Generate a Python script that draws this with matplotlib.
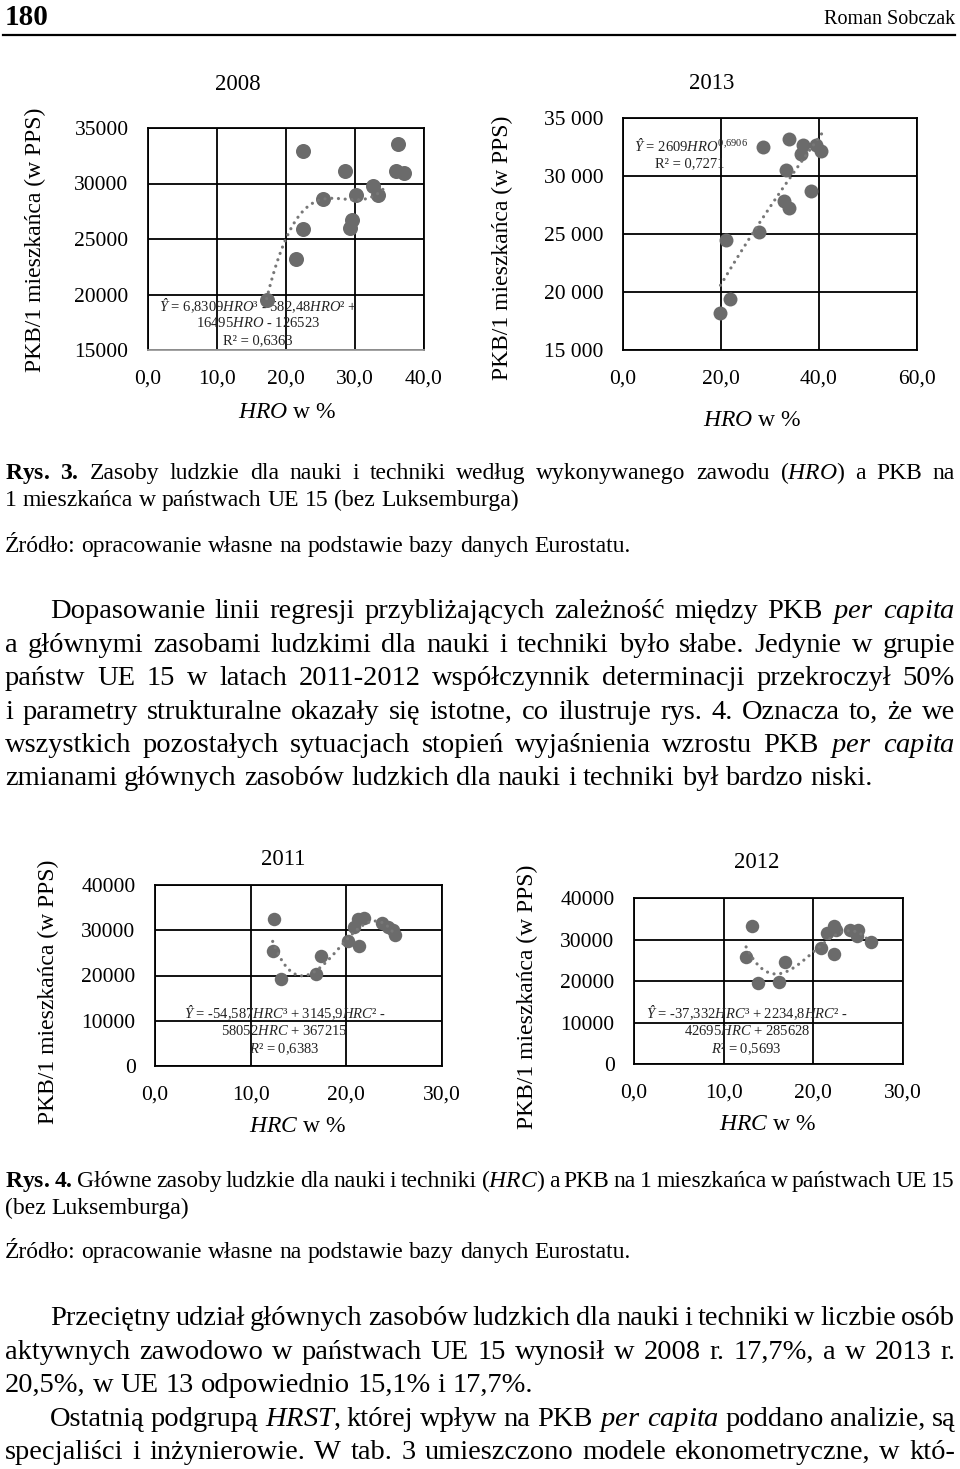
import matplotlib
matplotlib.use('Agg')
import matplotlib.pyplot as plt
import numpy as np

plt.rcParams['font.family'] = ['Liberation Serif', 'DejaVu Serif']
plt.rcParams['mathtext.fontset'] = 'custom'
plt.rcParams['mathtext.rm'] = 'Liberation Serif'
plt.rcParams['mathtext.it'] = 'Liberation Serif:italic'
plt.rcParams['mathtext.bf'] = 'Liberation Serif:bold'

# ---- data read from the page (HRO / HRC in %, PKB per capita in PPS) ----
hro_2008 = [22.4, 36.3, 28.6, 35.9, 37.1, 32.6, 33.4, 30.1, 25.3, 29.5, 29.3, 22.4, 21.5, 17.2]
pkb_2008 = [32950, 33560, 31090, 31150, 30940, 29740, 28990, 28990, 28600, 26730, 25980, 25890, 23180, 19510]
trend_2008 = [6.8309, -582.48, 16495, -126523]      # cubic, highest power first
trend_2008_range = [17.2, 34.6]

hro_2013 = [33.8, 28.5, 36.7, 36.4, 39.3, 40.4, 33.3, 38.4, 32.8, 33.8, 27.7, 21.0, 21.8, 19.7]
pkb_2013 = [33220, 32500, 32650, 31930, 32650, 32160, 30500, 28690, 27860, 27200, 25190, 24470, 19390, 18160]
trend_2013 = [2609, 0.6906]                          # power: a * x^b
trend_2013_range = [19.9, 40.6]

hrc_2011 = [12.4, 12.3, 13.2, 16.8, 17.3, 20.2, 21.3, 20.8, 21.2, 21.8, 23.7, 24.4, 24.9, 25.1]
pkb_2011 = [32400, 25460, 19190, 20440, 24350, 27600, 26490, 30780, 32400, 32770, 31660, 30780, 30040, 28930]
trend_2011 = [-54.587, 3145.9, -58052, 367215]
trend_2011_range = [12.3, 25.1]

hrc_2012 = [13.2, 12.5, 13.8, 16.2, 16.8, 20.8, 22.3, 21.5, 22.3, 22.5, 24.1, 25.0, 24.9, 26.4]
pkb_2012 = [33170, 25700, 19520, 19680, 24500, 27950, 26590, 31570, 33170, 32210, 32370, 32370, 30760, 29400]
trend_2012 = [-37.332, 2234.8, -42695, 285628]
trend_2012_range = [12.5, 26.4]

xticks_2008 = [0, 10, 20, 30, 40]
xticklabels_2008 = ['0,0', '10,0', '20,0', '30,0', '40,0']
yticks_2008 = [15000, 20000, 25000, 30000, 35000]
yticklabels_2008 = ['15000', '20000', '25000', '30000', '35000']

xticks_2013 = [0, 20, 40, 60]
xticklabels_2013 = ['0,0', '20,0', '40,0', '60,0']
yticks_2013 = [15000, 20000, 25000, 30000, 35000]
yticklabels_2013 = ['15 000', '20 000', '25 000', '30 000', '35 000']

xticks_hrc = [0, 10, 20, 30]
xticklabels_hrc = ['0,0', '10,0', '20,0', '30,0']
yticks_hrc = [0, 10000, 20000, 30000, 40000]
yticklabels_hrc = ['0', '10000', '20000', '30000', '40000']

W, H = 960, 1469
fig = plt.figure(figsize=(W / 100, H / 100), dpi=100)

# full-page axes in pixel coordinates (y down)
page = fig.add_axes([0, 0, 1, 1], zorder=0)
page.set_xlim(0, W)
page.set_ylim(H, 0)
page.axis('off')

renderer = fig.canvas.get_renderer()

DOT = '#6b6b6b'
YLAB = 'PKB/1 mieszkańca (w PPS)'


def add_chart(box, x, y, xlim, ylim, xt, xtl, yt, ytl, size):
    left, top, right, bottom = box
    ax = fig.add_axes([left / W, 1 - bottom / H, (right - left) / W, (bottom - top) / H], zorder=1)
    ax.set_facecolor('none')
    ax.set_xlim(*xlim)
    ax.set_ylim(*ylim)
    ax.set_xticks(xt)
    ax.set_xticklabels(xtl)
    ax.set_yticks(yt)
    ax.set_yticklabels(ytl)
    ax.tick_params(length=0, pad=14, labelsize=15.5)
    ax.grid(True, color='black', linewidth=1.3)
    ax.set_axisbelow(True)
    for sp in ax.spines.values():
        sp.set_linewidth(1.3)
    ax.scatter(x, y, s=size, color=DOT, zorder=3, linewidths=0)
    return ax


def trend_line(ax, xs, ys):
    ax.plot(xs, ys, color='#777777', linewidth=2.3, linestyle=(0, (0.01, 2.1)),
            dash_capstyle='round', zorder=4)


# ---- Rys. 3, 2008 ----
ax1 = add_chart((148, 128, 424, 350), hro_2008, pkb_2008, (0, 40), (15000, 35000),
                xticks_2008, xticklabels_2008, yticks_2008, yticklabels_2008, 117)
ax1.spines['bottom'].set_color('#9a9a9a')
xs = np.linspace(*trend_2008_range, 200)
trend_line(ax1, xs, np.polyval(trend_2008, xs))

# ---- Rys. 3, 2013 ----
ax2 = add_chart((623, 118, 917, 350), hro_2013, pkb_2013, (0, 60), (15000, 35000),
                xticks_2013, xticklabels_2013, yticks_2013, yticklabels_2013, 101)
xs = np.linspace(*trend_2013_range, 200)
trend_line(ax2, xs, trend_2013[0] * xs ** trend_2013[1])

# ---- Rys. 4, 2011 ----
ax3 = add_chart((155, 885, 442, 1066), hrc_2011, pkb_2011, (0, 30), (0, 40000),
                xticks_hrc, xticklabels_hrc, yticks_hrc, yticklabels_hrc, 94)
xs = np.linspace(*trend_2011_range, 200)
trend_line(ax3, xs, np.polyval(trend_2011, xs))

# ---- Rys. 4, 2012 ----
ax4 = add_chart((634, 898, 903, 1064), hrc_2012, pkb_2012, (0, 30), (0, 40000),
                xticks_hrc, xticklabels_hrc, yticks_hrc, yticklabels_hrc, 94)
xs = np.linspace(*trend_2012_range, 200)
trend_line(ax4, xs, np.polyval(trend_2012, xs))

# chart titles, axis labels
chart_text = [
    # (title, title_xy, xlabel, xlabel_xy, ylabel_xy)
    ('2008', (238, 84), r'$\mathit{HRO}$ w %', (287, 412), (35, 240)),
    ('2013', (712, 83), r'$\mathit{HRO}$ w %', (752, 420), (502, 248)),
    ('2011', (283, 859), r'$\mathit{HRC}$ w %', (298, 1127), (48, 992)),
    ('2012', (757, 862), r'$\mathit{HRC}$ w %', (768, 1125), (527, 997)),
]
for title, txy, xl, xxy, yxy in chart_text:
    page.text(*txy, title, fontsize=16.5, ha='center', va='center')
    page.text(*xxy, xl, fontsize=17, ha='center', va='center')
    page.text(*yxy, YLAB, fontsize=17, ha='center', va='center', rotation=90)

# regression equations
equations = [
    (ax1, [r'$\mathit{Ŷ}$ = 6,8309$\mathit{HRO}$³ - 582,48$\mathit{HRO}$² +',
           r'16495$\mathit{HRO}$ - 126523', 'R² = 0,6363'],
     [(258, 306), (258, 323), (258, 341)]),
    (ax2, [r'$\mathit{Ŷ}$ = 2609$\mathit{HRO}^{0{,}6906}$', 'R² = 0,7271'],
     [(691, 145), (690, 164)]),
    (ax3, [r'$\mathit{Ŷ}$ = -54,587$\mathit{HRC}$³ + 3145,9$\mathit{HRC}$² -',
           r'58052$\mathit{HRC}$ + 367215', r'$\mathit{R}$² = 0,6383'],
     [(285, 1013), (284, 1031), (284, 1049)]),
    (ax4, [r'$\mathit{Ŷ}$ = -37,332$\mathit{HRC}$³ + 2234,8$\mathit{HRC}$² -',
           r'42695$\mathit{HRC}$ + 285628', r'$\mathit{R}$² = 0,5693'],
     [(747, 1013), (747, 1031), (746, 1049)]),
]
for ax, lines, pos in equations:
    for s, (px, py) in zip(lines, pos):
        ax.text(px, py, s, fontsize=10.5, ha='center', va='center',
                transform=page.transData, zorder=2, color='#222222')


# ---- page text ----
def put_line(words, x0, y, fs, x1=None):
    arts = [page.text(0, y, w, fontsize=fs, ha='left', va='baseline') for w in words]
    widths = [a.get_window_extent(renderer).width for a in arts]
    if x1 is None or len(words) < 2:
        gap = fs * 100 / 72 * 0.25
    else:
        gap = (x1 - x0 - sum(widths)) / (len(words) - 1)
    x = x0
    for a, w in zip(arts, widths):
        a.set_x(x)
        x += w + gap


page.text(5, 25, '180', fontsize=21, fontweight='bold', ha='left', va='baseline')
page.text(955, 24, 'Roman Sobczak', fontsize=14.5, ha='right', va='baseline')
page.plot([3, 955], [35, 35], color='black', linewidth=1.6)

CAP = 17
BODY = 20.5
L, R, IND = 5, 955, 50

put_line([r'$\mathbf{Rys.}$', r'$\mathbf{3.}$'] +
         'Zasoby ludzkie dla nauki i techniki według wykonywanego zawodu'.split() +
         [r'($\mathit{HRO}$)', 'a', 'PKB', 'na'], L, 479, CAP, R)
put_line('1 mieszkańca w państwach UE 15 (bez Luksemburga)'.split(), L, 506, CAP)
put_line('Źródło: opracowanie własne na podstawie bazy danych Eurostatu.'.split(), L, 552, CAP)

PER = [r'$\mathit{per}$', r'$\mathit{capita}$']
para1 = [
    ('Dopasowanie linii regresji przybliżających zależność między PKB'.split() + PER, IND, 618, R),
    ('a głównymi zasobami ludzkimi dla nauki i techniki było słabe. Jedynie w grupie'.split(), L, 652, R),
    ('państw UE 15 w latach 2011-2012 współczynnik determinacji przekroczył 50%'.split(), L, 685, R),
    ('i parametry strukturalne okazały się istotne, co ilustruje rys. 4. Oznacza to, że we'.split(), L, 719, R),
    ('wszystkich pozostałych sytuacjach stopień wyjaśnienia wzrostu PKB'.split() + PER, L, 752, R),
    ('zmianami głównych zasobów ludzkich dla nauki i techniki był bardzo niski.'.split(), L, 785, None),
]
for words, x0, y, x1 in para1:
    put_line(words, x0, y, BODY, x1)

put_line([r'$\mathbf{Rys.}$', r'$\mathbf{4.}$'] +
         'Główne zasoby ludzkie dla nauki i techniki'.split() +
         [r'($\mathit{HRC}$)'] + 'a PKB na 1 mieszkańca w państwach UE 15'.split(), L, 1187, CAP, R)
put_line('(bez Luksemburga)'.split(), L, 1214, CAP)
put_line('Źródło: opracowanie własne na podstawie bazy danych Eurostatu.'.split(), L, 1258, CAP)

para2 = [
    ('Przeciętny udział głównych zasobów ludzkich dla nauki i techniki w liczbie osób'.split(), IND, 1325, R),
    ('aktywnych zawodowo w państwach UE 15 wynosił w 2008 r. 17,7%, a w 2013 r.'.split(), L, 1359, R),
    ('20,5%, w UE 13 odpowiednio 15,1% i 17,7%.'.split(), L, 1392, None),
    (['Ostatnią', 'podgrupą', r'$\mathit{HRST}$,'] + 'której wpływ na PKB'.split() + PER +
     'poddano analizie, są'.split(), IND, 1426, R),
    ('specjaliści i inżynierowie. W tab. 3 umieszczono modele ekonometryczne, w któ-'.split(), L, 1459, R),
]
for words, x0, y, x1 in para2:
    put_line(words, x0, y, BODY, x1)

fig.savefig('out.png', dpi=100)
